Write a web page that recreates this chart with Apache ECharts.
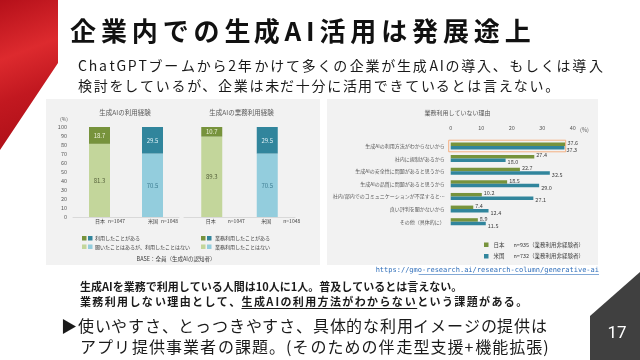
<!DOCTYPE html>
<html><head><meta charset="utf-8">
<script src="https://cdn.jsdelivr.net/npm/echarts@6/dist/echarts.min.js"></script>
<style>html,body{margin:0;padding:0;background:#fff}#c{width:640px;height:360px}</style>
</head><body><div id="c"></div>
<script>
// ---- data ----
const groups = ['日本', '米国'];
const groupN = ['n=1047', 'n=1048'];
const expUsed = [18.7, 29.5];
const expNever = [81.3, 70.5];
const bizUsed = [10.7, 29.5];
const bizNever = [89.3, 70.5];
const reasons = ['生成AIの利用方法がわからないから', '社内に規制があるから', '生成AIの安全性に問題があると思うから', '生成AIの品質に問題があると思うから', '社内/部内でのコミュニケーションが不足すると…', '良い評判を聞かないから', 'その他（具体的に）'];
const reasonJP = [37.6, 27.4, 22.7, 18.5, 10.2, 7.4, 8.9];
const reasonUS = [37.3, 18.0, 32.5, 29.0, 27.1, 12.4, 11.5];
const rightN = { '日本': 'n=935（業務利用非経験者）', '米国': 'n=732（業務利用非経験者）' };

const FONT = '"Noto Sans CJK JP"';
const darkC = ['#77933c', '#31859c'];
const lightC = ['#c3d69b', '#93cddd'];
const darkLbl = ['#eef2dc', '#dff1f6'];
const lightLbl = ['#55603a', '#3d7d92'];

// letter spacing via hair spaces
const mctx = document.createElement('canvas').getContext('2d');
function fnt(size, weight) { return (weight || 'normal') + ' ' + size + 'px ' + FONT; }
function spaced(str, size, weight, target) {
  mctx.font = fnt(size, weight);
  let sp = '\u200A';
  let hs = mctx.measureText(sp).width;
  if (!(hs > 0.3)) { sp = '\u2009'; hs = mctx.measureText(sp).width; }
  if (!(hs > 0.3)) { sp = ' '; hs = mctx.measureText(sp).width; }
  const chars = Array.from(str);
  const w0 = mctx.measureText(str).width;
  const total = Math.max(0, (target - w0) / hs);
  const gaps = chars.length - 1;
  let out = chars[0];
  const idx = [0];
  for (let i = 1; i < chars.length; i++) {
    const k = Math.round(total * i / gaps) - Math.round(total * (i - 1) / gaps);
    out += sp.repeat(k);
    idx.push(out.length);
    out += chars[i];
  }
  return { text: out, idx: idx };
}
function widthOf(s, size, weight) { mctx.font = fnt(size, weight); return mctx.measureText(s).width; }

const chart = echarts.init(document.getElementById('c'), null, { renderer: 'canvas' });

function txt(x, y, s, size, color, weight, align, family) {
  return { type: 'text', x: x, y: y, z: 10, style: { text: s, fontSize: size, fill: color, fontWeight: weight || 'normal', fontFamily: family || FONT, textAlign: align || 'left', textVerticalAlign: 'middle' } };
}

const title = spaced('企業内での生成AI活用は発展途上', 26, 'bold', 460);
const sub1 = spaced('ChatGPTブームから2年かけて多くの企業が生成AIの導入、もしくは導入', 14, 'normal', 524);
const sub2 = spaced('検討をしているが、企業は未だ十分に活用できているとは言えない。', 14, 'normal', 481);
const b1 = spaced('生成AIを業務で利用している人間は10人に1人。普及しているとは言えない。', 11, 'bold', 365);
const b2src = '業務利用しない理由として、生成AIの利用方法がわからないという課題がある。';
const b2 = spaced(b2src, 11, 'bold', 447);
const b3 = spaced('▶使いやすさ、とっつきやすさ、具体的な利用イメージの提供は', 16, 'normal', 486);
const b4 = spaced('アプリ提供事業者の課題。(そのための伴走型支援+機能拡張)', 16, 'normal', 469);
const linkText = 'https://gmo-research.ai/research-column/generative-ai';

// underline positions for b2
const uStartChar = b2src.indexOf('生成AI');
const uEndChar = b2src.indexOf('という');
const uX0 = 80 + widthOf(b2.text.slice(0, b2.idx[uStartChar]), 11, 'bold');
const uX1 = 80 + widthOf(b2.text.slice(0, b2.idx[uEndChar]), 11, 'bold');
const linkW = widthOf(linkText, 7, 'normal');

const graphics = [
  { type: 'rect', z: -5, shape: { x: 46, y: 99, width: 274, height: 166 }, style: { fill: '#f2f2f2' } },
  { type: 'rect', z: -5, shape: { x: 327, y: 99, width: 271, height: 166 }, style: { fill: '#f2f2f2' } },
  { type: 'polygon', z: -5, shape: { points: [[0, 0], [58, 0], [58, 63], [0, 150]] },
    style: { fill: new echarts.graphic.LinearGradient(0, 0, 1, 1, [
      { offset: 0, color: '#b5101a' }, { offset: 0.35, color: '#dd2a2e' }, { offset: 0.6, color: '#c21820' }, { offset: 1, color: '#a80d15' }]) } },
  { type: 'polygon', z: -5, shape: { points: [[640, 272], [590, 316], [590, 360], [640, 360]] }, style: { fill: '#404040' } },
  txt(617, 334, '17', 17, '#ffffff', 'normal', 'center', 'Roboto'),
  txt(70, 31, title.text, 26, '#111111', 'bold'),
  txt(78, 66, sub1.text, 14, '#1a1a1a'),
  txt(78, 86, sub2.text, 14, '#1a1a1a'),
  txt(80, 287, b1.text, 11, '#1a1a1a', 'bold'),
  txt(80, 302, b2.text, 11, '#1a1a1a', 'bold'),
  { type: 'line', z: 10, shape: { x1: uX0, y1: 308.5, x2: uX1, y2: 308.5 }, style: { stroke: '#1a1a1a', lineWidth: 1 } },
  txt(61, 326, b3.text, 16, '#1a1a1a'),
  txt(80, 347, b4.text, 16, '#1a1a1a'),
  txt(599, 270, linkText, 7, '#2f6eba', 'normal', 'right', 'DejaVu Sans Mono'),
  // left chart texts
  txt(125, 113, '生成AIの利用経験', 6.5, '#595959', 'normal', 'center'),
  txt(241.5, 113, '生成AIの業務利用経験', 6.5, '#595959', 'normal', 'center'),
  txt(64, 119, '(%)', 5, '#595959', 'normal', 'center'),
  txt(176, 258.5, 'BASE：全員（生成AIの認知者）', 5.5, '#404040', 'normal', 'center'),
  // left legends
  { type: 'rect', z: 10, shape: { x: 82, y: 236, width: 4.5, height: 4.5 }, style: { fill: darkC[0] } },
  { type: 'rect', z: 10, shape: { x: 88, y: 236, width: 4.5, height: 4.5 }, style: { fill: darkC[1] } },
  txt(95, 238.3, '利用したことがある', 5, '#404040'),
  { type: 'rect', z: 10, shape: { x: 82, y: 244.5, width: 4.5, height: 4.5 }, style: { fill: lightC[0] } },
  { type: 'rect', z: 10, shape: { x: 88, y: 244.5, width: 4.5, height: 4.5 }, style: { fill: lightC[1] } },
  txt(95, 246.7, '聞いたことはあるが、利用したことはない', 5, '#404040'),
  { type: 'rect', z: 10, shape: { x: 201, y: 236, width: 4.5, height: 4.5 }, style: { fill: darkC[0] } },
  { type: 'rect', z: 10, shape: { x: 207, y: 236, width: 4.5, height: 4.5 }, style: { fill: darkC[1] } },
  txt(215, 238.3, '業務利用したことがある', 5, '#404040'),
  { type: 'rect', z: 10, shape: { x: 201, y: 244.5, width: 4.5, height: 4.5 }, style: { fill: lightC[0] } },
  { type: 'rect', z: 10, shape: { x: 207, y: 244.5, width: 4.5, height: 4.5 }, style: { fill: lightC[1] } },
  txt(215, 246.7, '業務利用したことはない', 5, '#404040'),
  // right chart title and unit
  txt(457.5, 113, '業務利用していない理由', 6, '#595959', 'normal', 'center'),
  txt(584.5, 130, '(%)', 5.5, '#595959', 'normal', 'center')
];
graphics.push({ type: 'line', z: 10, shape: { x1: 599 - linkW, y1: 274.5, x2: 599, y2: 274.5 }, style: { stroke: '#2f6eba', lineWidth: 0.6 } });

function stackSeries(xi, vals, colors, lblColors, barW) {
  return {
    type: 'bar', xAxisIndex: xi, yAxisIndex: xi, stack: 's' + xi, barWidth: barW,
    label: { show: true, position: 'inside', fontSize: 6, fontFamily: FONT, formatter: p => Number(p.value).toFixed(1) },
    data: vals.map((v, i) => ({ value: v, itemStyle: { color: colors[i] }, label: { color: lblColors[i] } }))
  };
}

const catLabel = (gapN, pad) => ({
  fontSize: 5, color: '#404040', margin: 2, fontFamily: FONT, padding: [0, 0, 0, pad],
  formatter: (v, i) => v + '{n|' + groupN[i] + '}',
  rich: { n: { fontSize: 5, color: '#404040', padding: [0, 0, 0, gapN] } }
});

const fmt1 = p => Number(p.value).toFixed(1);

const option = {
  animation: false,
  textStyle: { fontFamily: FONT },
  grid: [
    { left: 73, top: 127, width: 106, height: 90 },
    { left: 184, top: 127, width: 111, height: 90 },
    { left: 450.7, top: 139.7, width: 122, height: 88.3 }
  ],
  xAxis: [
    { gridIndex: 0, type: 'category', data: groups, axisTick: { show: false }, axisLine: { lineStyle: { color: '#d9d9d9' } }, axisLabel: catLabel(3, 21) },
    { gridIndex: 1, type: 'category', data: groups, axisTick: { show: false }, axisLine: { lineStyle: { color: '#d9d9d9' } }, axisLabel: catLabel(12, 27) },
    { gridIndex: 2, type: 'value', position: 'top', min: 0, max: 40, interval: 10, splitLine: { show: false },
      axisLine: { show: false }, axisTick: { show: false },
      axisLabel: { fontSize: 5.5, color: '#595959', margin: 9 } }
  ],
  yAxis: [
    { gridIndex: 0, type: 'value', min: 0, max: 100, interval: 10, splitLine: { show: false }, axisLine: { show: false }, axisTick: { show: false },
      axisLabel: { fontSize: 5.5, color: '#595959', margin: 6 } },
    { gridIndex: 1, type: 'value', min: 0, max: 100, interval: 10, splitLine: { show: false }, axisLine: { show: false }, axisTick: { show: false }, axisLabel: { show: false } },
    { gridIndex: 2, type: 'category', data: reasons, inverse: true, axisLine: { show: false }, axisTick: { show: false },
      axisLabel: { fontSize: 5, color: '#595959', margin: 6 } }
  ],
  legend: {
    data: ['日本', '米国'], left: 479, top: 237, orient: 'vertical', icon: 'rect', itemWidth: 4.5, itemHeight: 4.5, itemGap: 6,
    textStyle: { fontSize: 5.5, color: '#404040', rich: { n: { fontSize: 5.5, color: '#404040', padding: [0, 0, 0, 9] } } },
    formatter: name => name + '{n|' + rightN[name] + '}'
  },
  series: [
    stackSeries(0, expNever, lightC, lightLbl, 21),
    stackSeries(0, expUsed, darkC, darkLbl, 21),
    stackSeries(1, bizNever, lightC, lightLbl, 21),
    stackSeries(1, bizUsed, darkC, darkLbl, 21),
    { type: 'bar', name: '日本', xAxisIndex: 2, yAxisIndex: 2, data: reasonJP, barWidth: 3.5, barGap: '0%', itemStyle: { color: '#77933c' },
      label: { show: true, position: 'right', distance: 2, offset: [0, -1.5], fontSize: 5.5, color: '#404040', formatter: fmt1 } },
    { type: 'bar', name: '米国', xAxisIndex: 2, yAxisIndex: 2, data: reasonUS, barWidth: 3.5, barGap: '0%', itemStyle: { color: '#31859c' },
      label: { show: true, position: 'right', distance: 2, offset: [0, 2], fontSize: 5.5, color: '#404040', formatter: fmt1 } }
  ],
  graphic: { elements: graphics }
};
chart.setOption(option);

// highlight box around first reason row (from the library's scales)
const pA = chart.convertToPixel({ gridIndex: 2 }, [0, reasons[0]]);
const pB = chart.convertToPixel({ gridIndex: 2 }, [Math.max(reasonJP[0], reasonUS[0]) + 0.1, reasons[0]]);
const band = chart.getModel().getComponent('yAxis', 2).axis.getBandWidth();
graphics.push({ type: 'rect', z: 20, shape: { x: pA[0] - 2, y: pA[1] - band * 0.46, width: pB[0] - pA[0] + 2, height: band * 0.92 }, style: { fill: 'none', stroke: '#f4b183', lineWidth: 1 } });
chart.setOption({ graphic: { elements: graphics } });
</script>
</body></html>
